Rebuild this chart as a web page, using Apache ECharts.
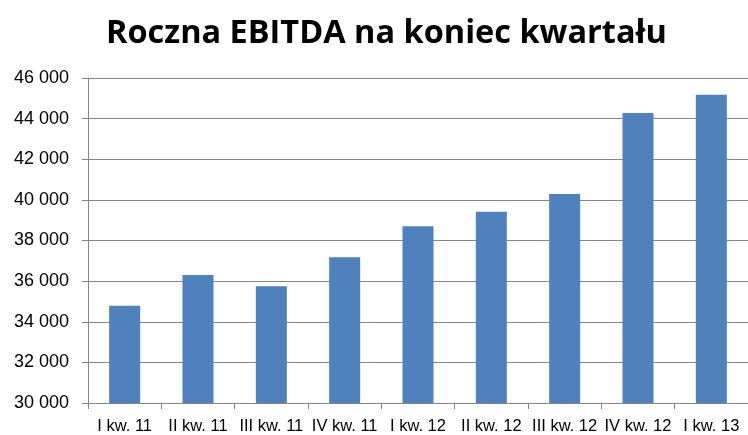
<!DOCTYPE html>
<html>
<head>
<meta charset="utf-8">
<script src="https://cdn.jsdelivr.net/npm/echarts@6/dist/echarts.min.js"></script>
<style>
  html, body { margin: 0; padding: 0; background: #fff; }
  #chart { width: 748px; height: 435px; }
</style>
</head>
<body>
<div id="chart"></div>
<script>
var categories = ['I kw. 11', 'II kw. 11', 'III kw. 11', 'IV kw. 11', 'I kw. 12', 'II kw. 12', 'III kw. 12', 'IV kw. 12', 'I kw. 13']
var ebitda = [34790, 36300, 35750, 37170, 38700, 39420, 40290, 44280, 45170]

var myChart = echarts.init(document.getElementById('chart'))
var option = {
  animation: false,
  title: {
    text: 'Roczna EBITDA na koniec kwartału',
    left: 101,
    top: 12,
    textStyle: {
      fontFamily: 'Open Sans',
      fontWeight: 'bold',
      fontSize: 32.5,
      color: '#000'
    }
  },
  grid: {
    left: 88,
    right: 0,
    top: 78,
    bottom: 32
  },
  xAxis: {
    type: 'category',
    data: categories,
    axisLine: { lineStyle: { color: '#868686', width: 1 } },
    axisTick: { show: true, length: 6, lineStyle: { color: '#868686' } },
    axisLabel: {
      interval: 0,
      hideOverlap: false,
      margin: 15,
      color: '#000',
      fontFamily: 'Liberation Sans',
      fontSize: 16.5
    }
  },
  yAxis: {
    type: 'value',
    min: 30000,
    max: 46000,
    interval: 2000,
    axisLine: { show: true, lineStyle: { color: '#868686', width: 1 } },
    axisTick: { show: true, length: 6, lineStyle: { color: '#868686' } },
    splitLine: { lineStyle: { color: '#868686', width: 1 } },
    axisLabel: {
      margin: 19,
      color: '#000',
      fontFamily: 'Liberation Sans',
      fontSize: 18,
      formatter: function (v) {
        return String(v).replace(/\B(?=(\d{3})+(?!\d))/g, ' ')
      }
    }
  },
  series: [
    {
      name: 'EBITDA',
      type: 'bar',
      data: ebitda,
      barWidth: 31,
      itemStyle: { color: '#4F81BD' }
    }
  ]
}
myChart.setOption(option)
</script>
</body>
</html>
